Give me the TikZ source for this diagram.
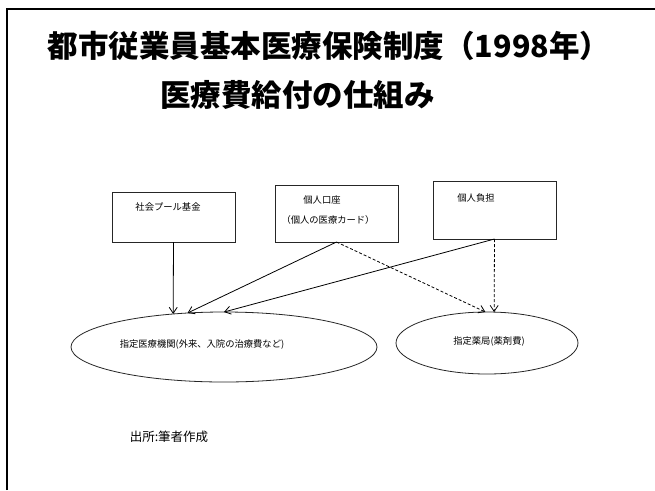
\documentclass[tikz,border=0pt]{standalone}
\usepackage{fontspec}
\newfontfamily\cjk{Noto Sans CJK JP}
\usetikzlibrary{shapes.geometric,arrows.meta}
\begin{document}
\begin{tikzpicture}[x=1pt,y=-1pt,
  box/.style={draw=black!85,line width=0.8pt,minimum width=123pt,inner sep=0pt,outer sep=0pt},
  oval/.style={ellipse,draw=black!85,line width=0.8pt,inner sep=0pt,outer sep=0pt},
  small/.style={font=\cjk\fontsize{9.3}{11}\selectfont,inner sep=0pt},
  titletext/.style={font=\cjk\bfseries\fontsize{30.5}{36}\selectfont,inner sep=0pt},
  link/.style={line width=0.8pt,-{Straight Barb[length=6pt,width=8pt]}},
  dlink/.style={link,dash pattern=on 3pt off 2pt}]
\useasboundingbox (0,0) rectangle (655,490);
\fill[white] (0,0) rectangle (655,490);
% frame
\draw[line width=2.5pt] (7,490) -- (7,9) -- (655,9);
% titles
\node[titletext] (t1) at (329,46) {都市従業員基本医療保険制度（1998年）};
\node[titletext] (t2) at (297.5,95) {医療費給付の仕組み};
% boxes
\node[box,minimum height=50pt] (b1) at (173.5,217) {};
\node[box,minimum height=57pt] (b2) at (336.5,213.5) {};
\node[box,minimum height=58pt] (b3) at (494.5,210) {};
\node[small] (b1t) at (168,207) {社会プール基金};
\node[small] (b2t) at (322,200) {個人口座};
\node[small] (b2u) at (328,220) {（個人の医療カード）};
\node[small] (b3t) at (476,198) {個人負担};
% ellipses
\node[oval,minimum width=306pt,minimum height=70pt] (e1) at (224,347) {};
\node[oval,minimum width=182pt,minimum height=62pt] (e2) at (487,343) {};
\node[small] (e1t) at (202,344) {指定医療機関(外来、入院の治療費など)};
\node[small] (e2t) at (489,341) {指定薬局(薬剤費)};
% connectors
\draw[link] (b1.south) -- (e1.147);
\draw[link] (b2.south) -- (e1.137.4);
\draw[link] (b3.south) -- (e1.north);
\draw[dlink] (b2.south) -- (e2.93);
\draw[dlink] (b3.south) -- (e2.77);
% source
\node[font=\cjk\fontsize{12.5}{14}\selectfont,inner sep=0pt] (src) at (169,437) {出所:筆者作成};
\end{tikzpicture}
\end{document}
